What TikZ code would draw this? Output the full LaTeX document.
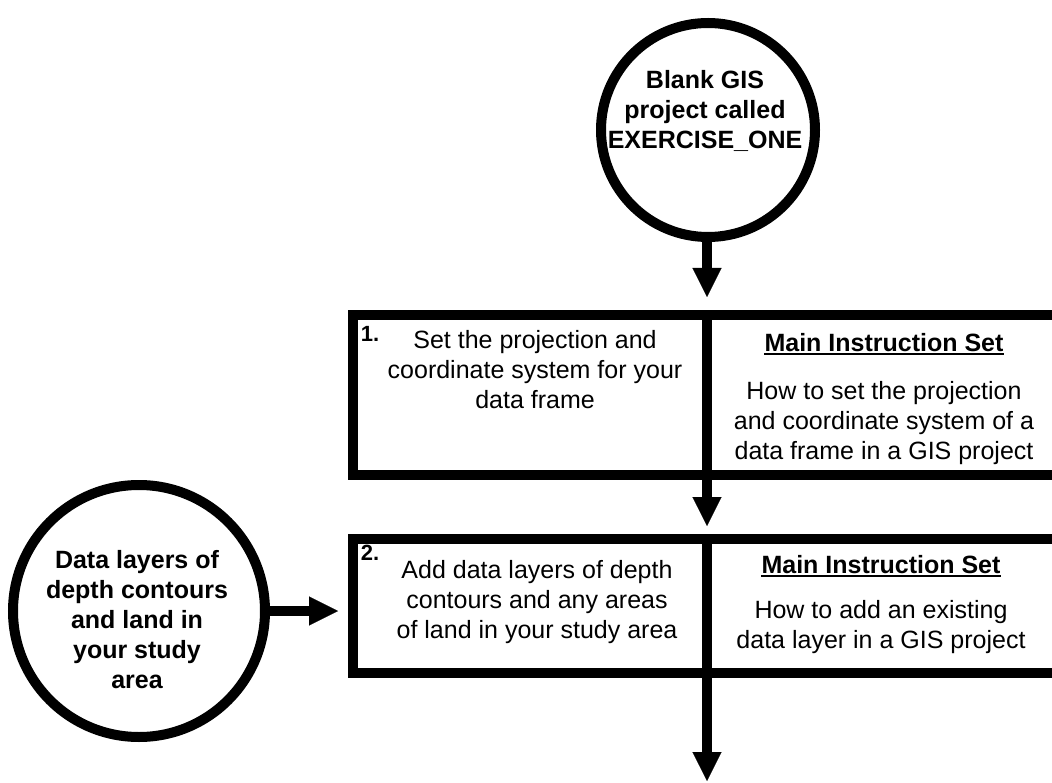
\documentclass[tikz,border=0pt]{standalone}
\usepackage{fontspec}
\setmainfont{Liberation Sans}
\usetikzlibrary{arrows.meta}
\begin{document}
\begin{tikzpicture}[x=1pt,y=-1pt,
  circ/.style={circle, draw, line width=10pt, inner sep=0pt, outer sep=0pt, minimum size=#1},
  boxst/.style={rectangle, draw, line width=10pt, inner sep=0pt, outer sep=0pt, minimum width=708pt},
  arr/.style={line width=10pt, -{Triangle[width=29pt 0 0, length=29pt 0 0, line width=0.1pt]}},
  btext/.style={font=\fontsize{25}{30}\selectfont\bfseries, align=center, inner sep=0pt},
  rtext/.style={font=\fontsize{25}{30}\selectfont, align=center, inner sep=0pt},
  lbl/.style={font=\fontsize{22}{26}\selectfont\bfseries, inner sep=0pt},
  uline/.style={line width=2pt}]
\useasboundingbox (0,0) rectangle (1052,783);
\fill[white] (0,0) rectangle (1052,783);
\clip (0,0) rectangle (1052,783);
% top circle
\node[circ=214pt] (c1) at (708,130) {};
\node[btext] (c1t) at (705,111) {Blank GIS\\project called\\EXERCISE\_ONE};
% boxes
\node[boxst, minimum height=160pt] (b1) at (707,395) {};
\node[boxst, minimum height=134pt] (b2) at (707,605.5) {};
\draw[line width=10pt] (b1.north) -- (b1.south);
\draw[line width=10pt] (b2.north) -- (b2.south);
% left circle
\node[circ=252pt] (c2) at (139,611) {};
\node[btext] (c2t) at (137,620) {Data layers of\\depth contours\\and land in\\your study\\area};
% box 1 texts
\node[lbl] (n1) at (370,334) {1.};
\node[rtext] (b1l) at (535,370) {Set the projection and\\coordinate system for your\\data frame};
\node[btext] (b1h) at (884,343) {Main Instruction Set};
\draw[uline] ([yshift=-2.5pt]b1h.base west) -- ([yshift=-2.5pt]b1h.base east);
\node[rtext] (b1r) at (884,423) {How to set the projection\\and coordinate system of a\\data frame in a GIS project};
% box 2 texts
\node[lbl] (n2) at (370,553) {2.};
\node[rtext] (b2l) at (537,602) {Add data layers of depth\\contours and any areas\\of land in your study area};
\node[btext] (b2h) at (881,565) {Main Instruction Set};
\draw[uline] ([yshift=-2.5pt]b2h.base west) -- ([yshift=-2.5pt]b2h.base east);
\node[rtext] (b2r) at (881,627) {How to add an existing\\data layer in a GIS project};
% connectors
\coordinate (endpt) at (707,781);
\draw[arr, shorten >=18pt] (c1.south -| b1.north) -- (b1.north);
\draw[arr, shorten >=12.5pt] (b1.south) -- (b2.north);
\draw[arr] (b2.south) -- (endpt);
\draw[arr, shorten >=15pt] (c2.east) -- (c2.east -| b2.west);
\end{tikzpicture}
\end{document}
